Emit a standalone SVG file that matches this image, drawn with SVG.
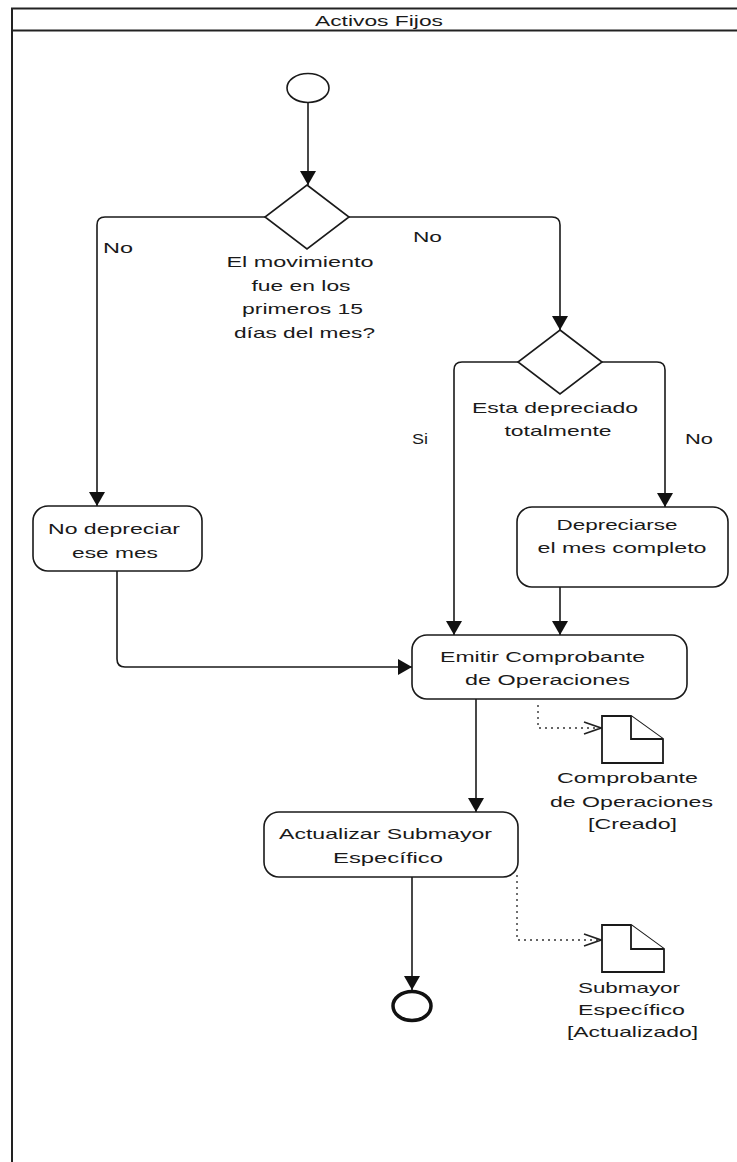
<svg xmlns="http://www.w3.org/2000/svg" width="737" height="1162" viewBox="0 0 737 1162">
<style>
text{font-family:"Liberation Sans",Arial,sans-serif;font-size:15px;fill:#1a1a1a}
.m{text-anchor:middle}
.frame{fill:none;stroke:#222;stroke-width:2}
.box{fill:#fff;stroke:#1a1a1a;stroke-width:1.6}
.edge{fill:none;stroke:#1a1a1a;stroke-width:1.6}
.dot{fill:none;stroke:#333;stroke-width:1.4;stroke-dasharray:2 4}
.doc{fill:#fff;stroke:#1a1a1a;stroke-width:1.8;stroke-linejoin:miter}
</style>
<defs>
<marker id="arr" markerUnits="userSpaceOnUse" markerWidth="16" markerHeight="18" refX="14" refY="8" orient="auto">
<path d="M0,0 L14,8 L0,16 Z" fill="#111"/>
</marker>
<marker id="open" markerUnits="userSpaceOnUse" markerWidth="20" markerHeight="16" refX="18" refY="7" orient="auto">
<path d="M1,1 L18,7 L1,13" fill="none" stroke="#222" stroke-width="1.6"/>
</marker>
</defs>
<g id="frame">
<path class="frame" d="M12,1162 V8.5 H737 M12,30.5 H737"/>
<text class="m" x="379" y="26" textLength="128" lengthAdjust="spacingAndGlyphs">Activos Fijos</text>
</g>
<g id="connectors">
<path class="edge" d="M308,103 V185" marker-end="url(#arr)"/>
<path class="edge" d="M265,217 H105 Q97,217 97,225 V506" marker-end="url(#arr)"/>
<path class="edge" d="M349,217 H552 Q560,217 560,225 V330" marker-end="url(#arr)"/>
<path class="edge" d="M518,362 H462 Q454,362 454,370 V635" marker-end="url(#arr)"/>
<path class="edge" d="M602,362 H657 Q665,362 665,370 V507" marker-end="url(#arr)"/>
<path class="edge" d="M117,571 V659 Q117,667 125,667 H412" marker-end="url(#arr)"/>
<path class="edge" d="M560,587 V635" marker-end="url(#arr)"/>
<path class="edge" d="M476,699 V812" marker-end="url(#arr)"/>
<path class="edge" d="M412,877 V990" marker-end="url(#arr)"/>
<path class="dot" d="M538,705 V728 H601" marker-end="url(#open)"/>
<path class="dot" d="M517,875 V940 H601" marker-end="url(#open)"/>
<text x="103" y="253" textLength="30" lengthAdjust="spacingAndGlyphs">No</text>
<text x="413" y="242" textLength="29" lengthAdjust="spacingAndGlyphs">No</text>
<text x="412" y="444" textLength="16" lengthAdjust="spacingAndGlyphs">Si</text>
<text x="685" y="444" textLength="28" lengthAdjust="spacingAndGlyphs">No</text>
</g>
<g id="start">
<ellipse cx="308" cy="88" rx="21" ry="14.5" fill="#fff" stroke="#1a1a1a" stroke-width="1.6"/>
</g>
<g id="decision1">
<path class="box" d="M307,185 L349,217 L307,249 L265,217 Z"/>
<text class="m" x="300" y="267" textLength="147" lengthAdjust="spacingAndGlyphs">El movimiento</text>
<text class="m" x="301" y="291" textLength="99" lengthAdjust="spacingAndGlyphs">fue en los</text>
<text class="m" x="302.5" y="314" textLength="121" lengthAdjust="spacingAndGlyphs">primeros 15</text>
<text class="m" x="304.5" y="338" textLength="141" lengthAdjust="spacingAndGlyphs">días del mes?</text>
</g>
<g id="decision2">
<path class="box" d="M560,330 L602,362 L560,394 L518,362 Z"/>
<text class="m" x="555" y="413" textLength="166" lengthAdjust="spacingAndGlyphs">Esta depreciado</text>
<text class="m" x="558" y="436" textLength="107" lengthAdjust="spacingAndGlyphs">totalmente</text>
</g>
<g id="noDepreciar">
<rect class="box" x="33" y="506" width="169" height="65" rx="15"/>
<text class="m" x="114" y="534" textLength="132" lengthAdjust="spacingAndGlyphs">No depreciar</text>
<text class="m" x="115" y="558" textLength="86" lengthAdjust="spacingAndGlyphs">ese mes</text>
</g>
<g id="depreciarse">
<rect class="box" x="517" y="507" width="211" height="80" rx="15"/>
<text class="m" x="617" y="530" textLength="121" lengthAdjust="spacingAndGlyphs">Depreciarse</text>
<text class="m" x="622" y="553" textLength="169" lengthAdjust="spacingAndGlyphs">el mes completo</text>
</g>
<g id="emitir">
<rect class="box" x="412" y="635" width="275" height="64" rx="15"/>
<text class="m" x="542.5" y="662" textLength="205" lengthAdjust="spacingAndGlyphs">Emitir Comprobante</text>
<text class="m" x="547.5" y="685" textLength="165" lengthAdjust="spacingAndGlyphs">de Operaciones</text>
</g>
<g id="docComprobante">
<path class="doc" d="M602,716 H631 L663,739 V763 H602 Z"/>
<path class="doc" fill="none" d="M631,716 V739 H663"/>
<text class="m" x="627.5" y="783" textLength="141" lengthAdjust="spacingAndGlyphs">Comprobante</text>
<text class="m" x="631.5" y="807" textLength="163" lengthAdjust="spacingAndGlyphs">de Operaciones</text>
<text class="m" x="632.5" y="829" textLength="89" lengthAdjust="spacingAndGlyphs">[Creado]</text>
</g>
<g id="actualizar">
<rect class="box" x="264" y="812" width="254" height="65" rx="15"/>
<text class="m" x="385.5" y="839" textLength="213" lengthAdjust="spacingAndGlyphs">Actualizar Submayor</text>
<text class="m" x="388" y="863" textLength="110" lengthAdjust="spacingAndGlyphs">Específico</text>
</g>
<g id="docSubmayor">
<path class="doc" d="M602,925 H631 L664,949 V972 H602 Z"/>
<path class="doc" fill="none" d="M631,925 V949 H664"/>
<text class="m" x="629" y="993" textLength="102" lengthAdjust="spacingAndGlyphs">Submayor</text>
<text class="m" x="631.5" y="1015" textLength="107" lengthAdjust="spacingAndGlyphs">Específico</text>
<text class="m" x="632.5" y="1037" textLength="131" lengthAdjust="spacingAndGlyphs">[Actualizado]</text>
</g>
<g id="end">
<ellipse cx="412" cy="1006" rx="19" ry="14.5" fill="#fff" stroke="#111" stroke-width="3.5"/>
</g>
</svg>
